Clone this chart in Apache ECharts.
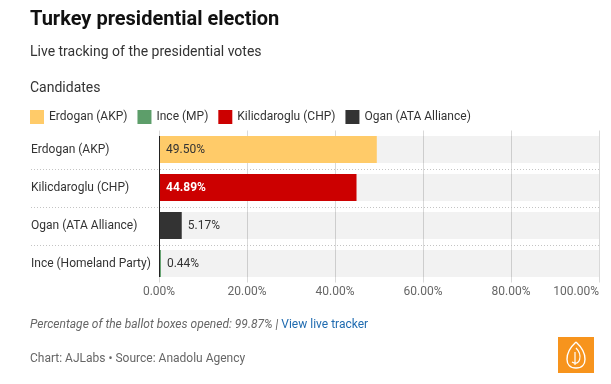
<!DOCTYPE html>
<html>
<head>
<meta charset="utf-8">
<script src="https://cdn.jsdelivr.net/npm/echarts@6/dist/echarts.min.js"></script>
<style>
html,body{margin:0;padding:0;background:#fff;}
#chart{width:611px;height:384px;}
</style>
</head>
<body>
<div id="chart"></div>
<script>
// ---- data ----
const categories = ['Erdogan (AKP)', 'Kilicdaroglu (CHP)', 'Ogan (ATA Alliance)', 'Ince (Homeland Party)'];
const values = [49.50, 44.89, 5.17, 0.44];
const legendNames = ['Erdogan (AKP)', 'Ince (MP)', 'Kilicdaroglu (CHP)', 'Ogan (ATA Alliance)'];
const legendToCategory = [0, 3, 1, 2];
const xTicks = [0, 20, 40, 60, 80, 100];
const rowSeparators = [1, 2, 3]; // boundary before these category indices
const ballotOpened = '99.87%';

// ---- styles ----
const colors = ['#ffcb69', '#5d9e6a', '#cc0000', '#333333'];
const FONT = 'Roboto';
const LABEL_AREA = 128;
const BAR_W = 27;

const chart = echarts.init(document.getElementById('chart'), null, {renderer: 'canvas'});

const series = legendNames.map(function (name, si) {
  const ci = legendToCategory[si];
  const data = categories.map(function (c, i) { return i === ci ? values[i] : null; });
  let label;
  if (ci === 0) {
    label = {show: true, position: 'insideLeft', distance: 7, color: '#333', fontSize: 12, fontFamily: FONT,
      formatter: function (p) { return p.value.toFixed(2) + '%'; }};
  } else if (ci === 1) {
    label = {show: true, position: 'insideLeft', distance: 7, color: '#fff', fontWeight: 'bold', fontSize: 12, fontFamily: FONT,
      formatter: function (p) { return p.value.toFixed(2) + '%'; }};
  } else {
    label = {show: true, position: 'right', distance: 6, color: '#333', fontSize: 12, fontFamily: FONT,
      formatter: function (p) { return p.value.toFixed(2) + '%'; }};
  }
  return {
    name: name,
    type: 'bar',
    stack: 'all',
    barWidth: BAR_W,
    data: data,
    itemStyle: {color: colors[si]},
    label: label,
    showBackground: si === 0,
    backgroundStyle: {color: 'rgba(0,0,0,0.05)'},
    emphasis: {disabled: true},
    animation: false
  };
});

// dotted row separators, positioned through the category axis
series.push({
  name: '__sep', type: 'custom', silent: true, clip: false, z: 1, animation: false,
  data: rowSeparators.map(function (i) { return [0, i]; }),
  encode: {x: 0, y: 1},
  renderItem: function (params, api) {
    const idx = api.value(1);
    const a = api.coord([0, idx - 1]);
    const b = api.coord([0, idx]);
    const y = Math.round((a[1] + b[1]) / 2) + 0.5;
    const cs = params.coordSys;
    return {
      type: 'line',
      shape: {x1: cs.x - LABEL_AREA, y1: y, x2: cs.x + cs.width, y2: y},
      style: {stroke: '#c4c4c4', lineWidth: 1, lineDash: [1, 2]}
    };
  }
});

// zero baseline spanning the bars only
series.push({
  name: '__zero', type: 'custom', silent: true, clip: false, z: 5, animation: false,
  data: [[0, 0, categories.length - 1]],
  encode: {x: 0, y: 1},
  renderItem: function (params, api) {
    const top = api.coord([api.value(0), api.value(1)]);
    const bot = api.coord([api.value(0), api.value(2)]);
    const x = Math.round(top[0]) + 0.5;
    return {
      type: 'line',
      shape: {x1: x, y1: top[1] - BAR_W / 2, x2: x, y2: bot[1] + BAR_W / 2},
      style: {stroke: '#222', lineWidth: 1}
    };
  }
});

chart.setOption({
  animation: false,
  textStyle: {fontFamily: FONT},
  title: [
    {text: 'Turkey presidential election', left: 30, top: 10, padding: 0,
      textStyle: {fontSize: 20, fontWeight: 'bold', color: '#111', fontFamily: FONT}},
    {text: 'Live tracking of the presidential votes', left: 30, top: 45, padding: 0,
      textStyle: {fontSize: 14, fontWeight: 'normal', color: '#333', fontFamily: FONT}},
    {text: 'Candidates', left: 30, top: 81, padding: 0,
      textStyle: {fontSize: 14, fontWeight: 'normal', color: '#333', fontFamily: FONT}},
    {text: '{i|Percentage of the ballot boxes opened: ' + ballotOpened + ' | }{l|View live tracker}', left: 30, top: 319, padding: 0,
      textStyle: {fontSize: 12, fontWeight: 'normal', fontFamily: FONT,
        rich: {i: {fontStyle: 'italic', color: '#666', fontSize: 12, fontFamily: FONT},
               l: {color: '#1f6bb0', fontSize: 12, fontFamily: FONT}}}},
    {text: 'Chart: AJLabs \u2022 Source: Anadolu Agency', left: 30, top: 353, padding: 0,
      textStyle: {fontSize: 12, fontWeight: 'normal', color: '#666', fontFamily: FONT}}
  ],
  legend: {
    data: legendNames,
    left: 30, top: 110, padding: 0,
    icon: 'rect',
    itemWidth: 14, itemHeight: 14, itemGap: 10,
    textStyle: {fontSize: 12, color: '#333', fontFamily: FONT},
    selectedMode: false
  },
  grid: {left: 159, right: 12, top: 130.5, height: 152, containLabel: false},
  xAxis: {
    type: 'value', min: xTicks[0], max: xTicks[xTicks.length - 1], interval: 20,
    axisLine: {show: false}, axisTick: {show: false},
    splitLine: {show: true, lineStyle: {color: '#d9d9d9', width: 1}},
    axisLabel: {color: '#666', fontSize: 12, fontFamily: FONT, margin: 3,
      alignMaxLabel: 'right',
      formatter: function (v) { return v.toFixed(2) + '%'; }}
  },
  yAxis: {
    type: 'category', data: categories, inverse: true,
    axisLine: {show: false},
    axisTick: {show: false},
    splitLine: {show: false},
    axisLabel: {color: '#333', fontSize: 12, fontFamily: FONT, align: 'left', margin: LABEL_AREA}
  },
  series: series,
  graphic: [
    {type: 'group', left: 558, top: 337, silent: true, children: [
      {type: 'rect', shape: {x: 0, y: 0, width: 36, height: 36}, style: {fill: '#f7941d'}},
      {type: 'bezierCurve', shape: {x1: 18, y1: 5, x2: 18, y2: 31, cpx1: 30, cpy1: 16, cpx2: 30, cpy2: 31},
        style: {fill: null, stroke: '#fff', lineWidth: 1.4}},
      {type: 'bezierCurve', shape: {x1: 18, y1: 5, x2: 18, y2: 31, cpx1: 6, cpy1: 16, cpx2: 6, cpy2: 31},
        style: {fill: null, stroke: '#fff', lineWidth: 1.4}},
      {type: 'bezierCurve', shape: {x1: 18, y1: 11, x2: 14, y2: 25, cpx1: 25, cpy1: 18, cpx2: 22, cpy2: 30},
        style: {fill: null, stroke: '#fff', lineWidth: 1.2}},
      {type: 'line', shape: {x1: 17, y1: 15, x2: 17, y2: 28},
        style: {stroke: '#fff', lineWidth: 1.2}}
    ]}
  ]
});
</script>
</body>
</html>
